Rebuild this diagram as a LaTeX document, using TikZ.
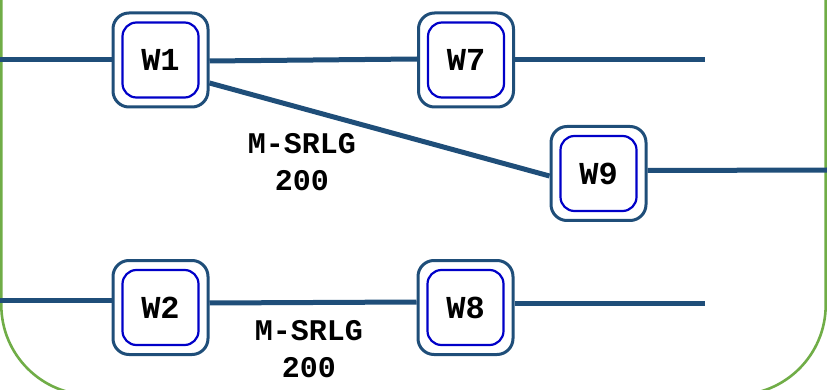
\documentclass[tikz,border=0pt]{standalone}
\usepackage{fontspec}
\newfontfamily\monob{Liberation Mono}
\usetikzlibrary{calc}
\definecolor{linkblue}{RGB}{31,78,121}
\definecolor{innerblue}{RGB}{0,0,200}
\definecolor{framegreen}{RGB}{112,173,71}
\tikzset{
  x=1pt, y=1pt,
  link/.style={draw=linkblue, line width=5pt},
  wnode/.style={draw=linkblue, line width=3pt, fill=white, rounded corners=16pt,
    minimum width=95pt, minimum height=94pt, inner sep=0pt,
    font=\monob\bfseries\fontsize{32}{36}\selectfont,
    path picture={\draw[innerblue, line width=2.2pt, rounded corners=14pt]
      ($(path picture bounding box.south west)+(9.5,9.5)$) rectangle
      ($(path picture bounding box.north east)-(9.5,9.5)$);}},
  srlg/.style={align=center, font=\monob\bfseries\fontsize{30}{37}\selectfont}
}
\begin{document}
\begin{tikzpicture}
\useasboundingbox (0,0) rectangle (827,-390);
\clip (0,0) rectangle (827,-390);
% frame
\draw[framegreen, line width=2.6pt, rounded corners=90pt]
  (1.3,20) -- (1.3,-395) -- (825.7,-395) -- (825.7,20);
% nodes
\node[wnode] (W1) at (160.5,-60) {W1};
\node[wnode] (W7) at (466,-60) {W7};
\node[wnode] (W9) at (598.5,-173.5) {W9};
\node[wnode] (W2) at (160.5,-307.5) {W2};
\node[wnode] (W8) at (465.5,-307.5) {W8};
\coordinate (inA) at (0,-60);
\coordinate (outA) at (705,-59.5);
\coordinate (outB) at (827,-170);
\coordinate (inC) at (0,-300.5);
\coordinate (outC) at (705,-303.5);
% links
\draw[link] (inA) -- (W1.west);
\draw[link] ([yshift=-1pt]W1.east) -- ([yshift=1pt]W7.west);
\draw[link] (W7.east |- outA) -- (outA);
\draw[link] ([yshift=-23pt]W1.east) -- ([yshift=-2.5pt]W9.west);
\draw[link] ([yshift=3pt]W9.east) -- (outB);
\draw[link] (inC) -- (W2.west |- inC);
\draw[link] ([yshift=4.5pt]W2.east) -- ([yshift=5.5pt]W8.west);
\draw[link] (W8.east |- outC) -- (outC);
% labels
\node[srlg] (L1) at (302,-162) {M-SRLG\\200};
\node[srlg] (L2) at (309,-349) {M-SRLG\\200};
\end{tikzpicture}
\end{document}
